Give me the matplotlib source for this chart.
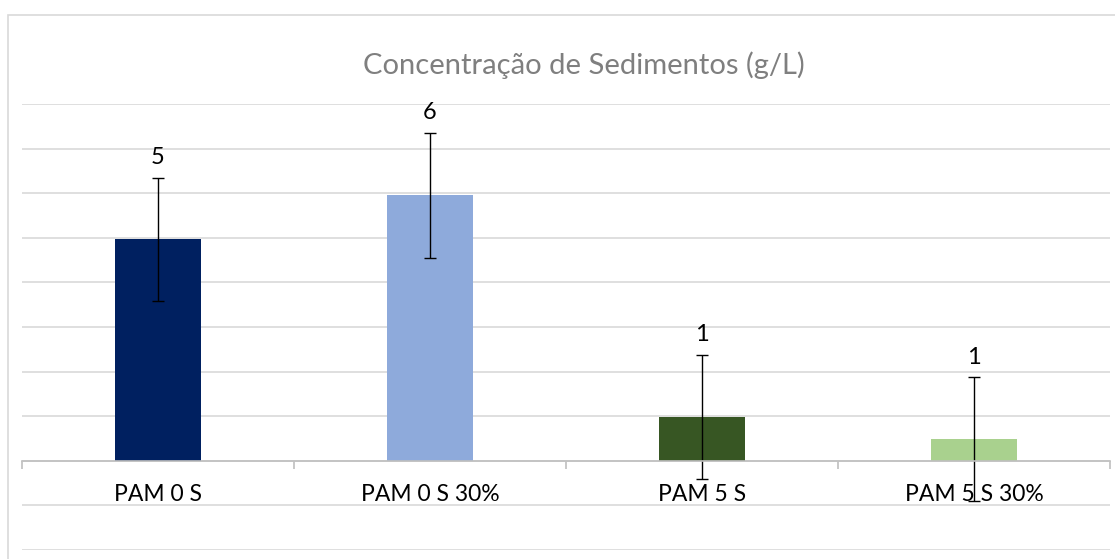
import matplotlib
matplotlib.use("Agg")
import matplotlib.pyplot as plt
import matplotlib.patches as mpatches
import numpy as np

plt.rcParams['font.family'] = ['Lato', 'DejaVu Sans']

# data
categories = ["PAM 0 S", "PAM 0 S 30%", "PAM 5 S", "PAM 5 S 30%"]
values = [4.97, 5.95, 0.99, 0.48]
errors = [1.38, 1.40, 1.39, 1.39]
labels = ["5", "6", "1", "1"]
colors = ["#002060", "#8eaadb", "#375623", "#a9d18e"]
title = "Concentração de Sedimentos (g/L)"

W, H = 1115, 559
fig = plt.figure(figsize=(W / 100, H / 100), dpi=100)

# light chart border (runs off the right and bottom edges)
fig.patches.append(mpatches.Rectangle((7.5 / W, -0.1), 1.2, 1 - 15.5 / H + 0.1,
                                      transform=fig.transFigure, fill=False,
                                      edgecolor="#d9d9d9", lw=1.2))

ax = fig.add_axes([22 / W, 9 / H, (1110 - 22) / W, (550 - 104) / H])
x = np.arange(len(categories))

ax.bar(x, values, width=0.316, color=colors, zorder=3)
ax.errorbar(x, values, yerr=errors, fmt="none", ecolor="black",
            elinewidth=1, capsize=4.5, capthick=1, zorder=4)

for xi, v, e, lab in zip(x, values, errors, labels):
    ax.annotate(lab, (xi, v + e), xytext=(0, 10), textcoords="offset points",
                ha="center", va="baseline", fontsize=17, color="black")

ax.set_xlim(-0.5, len(categories) - 0.5)
ax.set_ylim(-2, 8)
ax.set_yticks(np.arange(-2, 9, 1))
ax.yaxis.grid(True, color="#d9d9d9", lw=1.2, zorder=0)
ax.tick_params(axis="y", length=0, labelleft=False)

for s in ["top", "right", "left"]:
    ax.spines[s].set_visible(False)
ax.spines["bottom"].set_position(("data", 0))
ax.spines["bottom"].set_color("#bfbfbf")
ax.spines["bottom"].set_linewidth(1.2)
ax.spines["bottom"].set_zorder(5)

ax.set_xticks(x)
ax.set_xticklabels(categories, fontsize=16.5)
ax.set_xticks(np.arange(-0.5, len(categories), 1), minor=True)
ax.tick_params(axis="x", which="major", length=0, pad=17)
ax.tick_params(axis="x", which="minor", length=6, color="#bfbfbf", width=1.2)

fig.text(584 / W, 1 - 65 / H, title, ha="center", va="center",
         fontsize=21, color="#7f7f7f")

plt.savefig("out.png", dpi=100)
